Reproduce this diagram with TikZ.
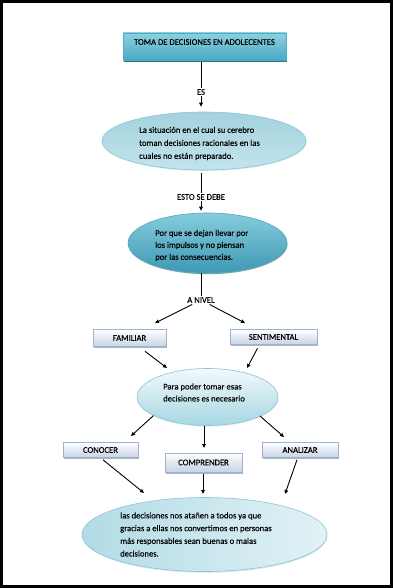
\documentclass[tikz,border=0pt]{standalone}
\usepackage{fontspec}
\setmainfont{Carlito}[FakeBold=0.25]
\usetikzlibrary{shapes.geometric,arrows.meta,shadows,calc}
\definecolor{titletop}{HTML}{8BD1E1}
\definecolor{titlebot}{HTML}{4AAAC3}
\definecolor{titleline}{HTML}{4FA9C1}
\definecolor{titleshadow}{HTML}{1F6373}
\definecolor{boxbot}{HTML}{C7D3E6}
\definecolor{boxline}{HTML}{9DB2D2}
\definecolor{boxshadow}{HTML}{9AA3B0}
\definecolor{lightline}{HTML}{8CC6D6}
\definecolor{eonetop}{HTML}{A3D2DE}
\definecolor{eonemid}{HTML}{E9F5F8}
\definecolor{eonebot}{HTML}{C3E4EC}
\definecolor{etwotop}{HTML}{86CCDD}
\definecolor{etwomid}{HTML}{5CB5CC}
\definecolor{etwobot}{HTML}{3D99B3}
\definecolor{etwoline}{HTML}{4FA6BE}
\definecolor{ethreetop}{HTML}{F2F9FB}
\definecolor{ethreebot}{HTML}{A6D7E3}
\definecolor{efourdark}{HTML}{B2DBE5}
\definecolor{efourlight}{HTML}{E2F2F6}
\begin{document}
\begin{tikzpicture}[x=1pt,y=-1pt,
  txt/.style={font=\fontsize{8.6}{12.5}\selectfont, text=black},
  lbl/.style={txt, inner sep=1pt},
  arr/.style={line width=0.9pt, -{Triangle[length=4pt,width=3.6pt]}},
  plainline/.style={line width=0.9pt},
  smallbox/.style={rectangle, draw=boxline, line width=0.6pt, top color=white, bottom color=boxbot, inner sep=0pt, txt,
    drop shadow={shadow xshift=1.2pt, shadow yshift=-1.6pt, fill=boxshadow, opacity=0.8}},
  titlebox/.style={rectangle, draw=titleline, line width=0.6pt, top color=titletop, bottom color=titlebot, inner sep=0pt, txt,
    drop shadow={shadow xshift=0.8pt, shadow yshift=-1.8pt, fill=titleshadow, opacity=0.9}},
  ell/.style={ellipse, inner sep=0pt, line width=0.6pt},
  etext/.style={txt, align=left, inner sep=0pt, anchor=west}
]
\fill[black] (0,0) rectangle (393,588);
\fill[white] (3,3) rectangle (390,585);
\useasboundingbox (0,0) rectangle (393,588);

% title
\node[titlebox, minimum width=163pt, minimum height=27pt, text depth=9pt] (title) at (204.5,46.5) {TOMA DE DECISIONES EN ADOLECENTES};

% ellipses
\node[ell, draw=lightline, top color=eonetop, middle color=eonemid, bottom color=eonebot,
  minimum width=204pt, minimum height=58pt,
  drop shadow={shadow xshift=0.5pt, shadow yshift=-1pt, fill=lightline, opacity=0.35}] (e1) at (204,141) {};
\node[etext, font=\fontsize{8.6}{13}\selectfont] (e1t) at (139,143.5) {La situación en el cual su cerebro\\toman decisiones racionales en las\\cuales no están preparado.};

\node[ell, draw=etwoline, top color=etwotop, middle color=etwomid, bottom color=etwobot,
  minimum width=159pt, minimum height=60pt,
  drop shadow={shadow xshift=0.5pt, shadow yshift=-1.2pt, fill=titleshadow, opacity=0.6}] (e2) at (207.5,243) {};
\node[etext, font=\fontsize{8.6}{12}\selectfont] (e2t) at (155,245.5) {Por que se dejan llevar por\\los impulsos y no piensan\\por las consecuencias.};

\node[ell, draw=lightline, top color=ethreetop, bottom color=ethreebot,
  minimum width=141pt, minimum height=57pt,
  drop shadow={shadow xshift=0.5pt, shadow yshift=-1pt, fill=lightline, opacity=0.35}] (e3) at (207.5,397) {};
\node[etext, font=\fontsize{8.6}{12}\selectfont] (e3t) at (163,392.5) {Para poder tomar esas\\decisiones es necesario};

\node[ell, draw=lightline, left color=efourdark, right color=efourlight,
  minimum width=245pt, minimum height=74pt,
  drop shadow={shadow xshift=0.5pt, shadow yshift=-1.2pt, fill=lightline, opacity=0.4}] (e4) at (204.5,534.5) {};
\node[etext, font=\fontsize{8.6}{12.7}\selectfont] (e4t) at (120,534.5) {las decisiones nos atañen a todos ya que\\gracias a ellas nos convertimos en personas\\más responsables sean buenas o malas\\decisiones.};

% small boxes
\node[smallbox, minimum width=73pt, minimum height=17pt] (familiar) at (129.5,338) {FAMILIAR};
\node[smallbox, minimum width=87pt, minimum height=15pt] (sentimental) at (273.5,337) {SENTIMENTAL};
\node[smallbox, minimum width=75pt, minimum height=15pt] (conocer) at (100.5,450) {CONOCER};
\node[smallbox, minimum width=77pt, minimum height=19pt] (comprender) at (203.5,462.5) {COMPRENDER};
\node[smallbox, minimum width=76pt, minimum height=15pt] (analizar) at (300,450) {ANALIZAR};

% label nodes
\node[lbl] (es) at (201,92) {ES};
\node[lbl] (debe) at (201,197) {ESTO SE DEBE};
\node[lbl] (anivel) at (201,300) {A NIVEL};

% connectors
\draw[plainline, shorten <=2pt] (title.south -| es) -- (es.north);
\draw[arr, shorten >=5pt] (es.south) -- (es |- e1.north);
\draw[plainline, shorten <=3pt] (e1.south -| es) -- (debe.north);
\draw[arr, shorten >=2pt] (debe.south) -- (debe |- e2.north);
\draw[plainline] (e2.south -| es) -- (anivel.north);

\coordinate (famtip) at (155,323);
\coordinate (sentip) at (245,323);
\draw[arr, shorten <=1pt] (anivel) -- (famtip);
\draw[arr, shorten <=1pt] (anivel) -- (sentip);

\coordinate (ethreetipL) at (167,368);
\coordinate (ethreetipR) at (247,368);
\draw[arr] ([xshift=15.5pt,yshift=-4.5pt]familiar.south) -- (ethreetipL);
\draw[arr] ([xshift=-16pt,yshift=-3.5pt]sentimental.south) -- (ethreetipR);

\coordinate (conotip) at (131,436);
\coordinate (comptip) at (204,448);
\coordinate (analtip) at (284,437);
\draw[arr] (e3.199) -- (conotip);
\draw[arr] (e3.south -| comptip) -- (comptip);
\draw[arr] (e3.340) -- (analtip);

\coordinate (efourtipL) at (144,493);
\coordinate (efourtipM) at (203,494);
\coordinate (efourtipR) at (285,494);
\draw[arr] ([xshift=2.5pt,yshift=-2pt]conocer.south) -- (efourtipL);
\draw[arr, shorten <=1.5pt] (comprender.south -| efourtipM) -- (efourtipM);
\draw[arr] ([xshift=-3pt,yshift=-2pt]analizar.south) -- (efourtipR);
\end{tikzpicture}
\end{document}
